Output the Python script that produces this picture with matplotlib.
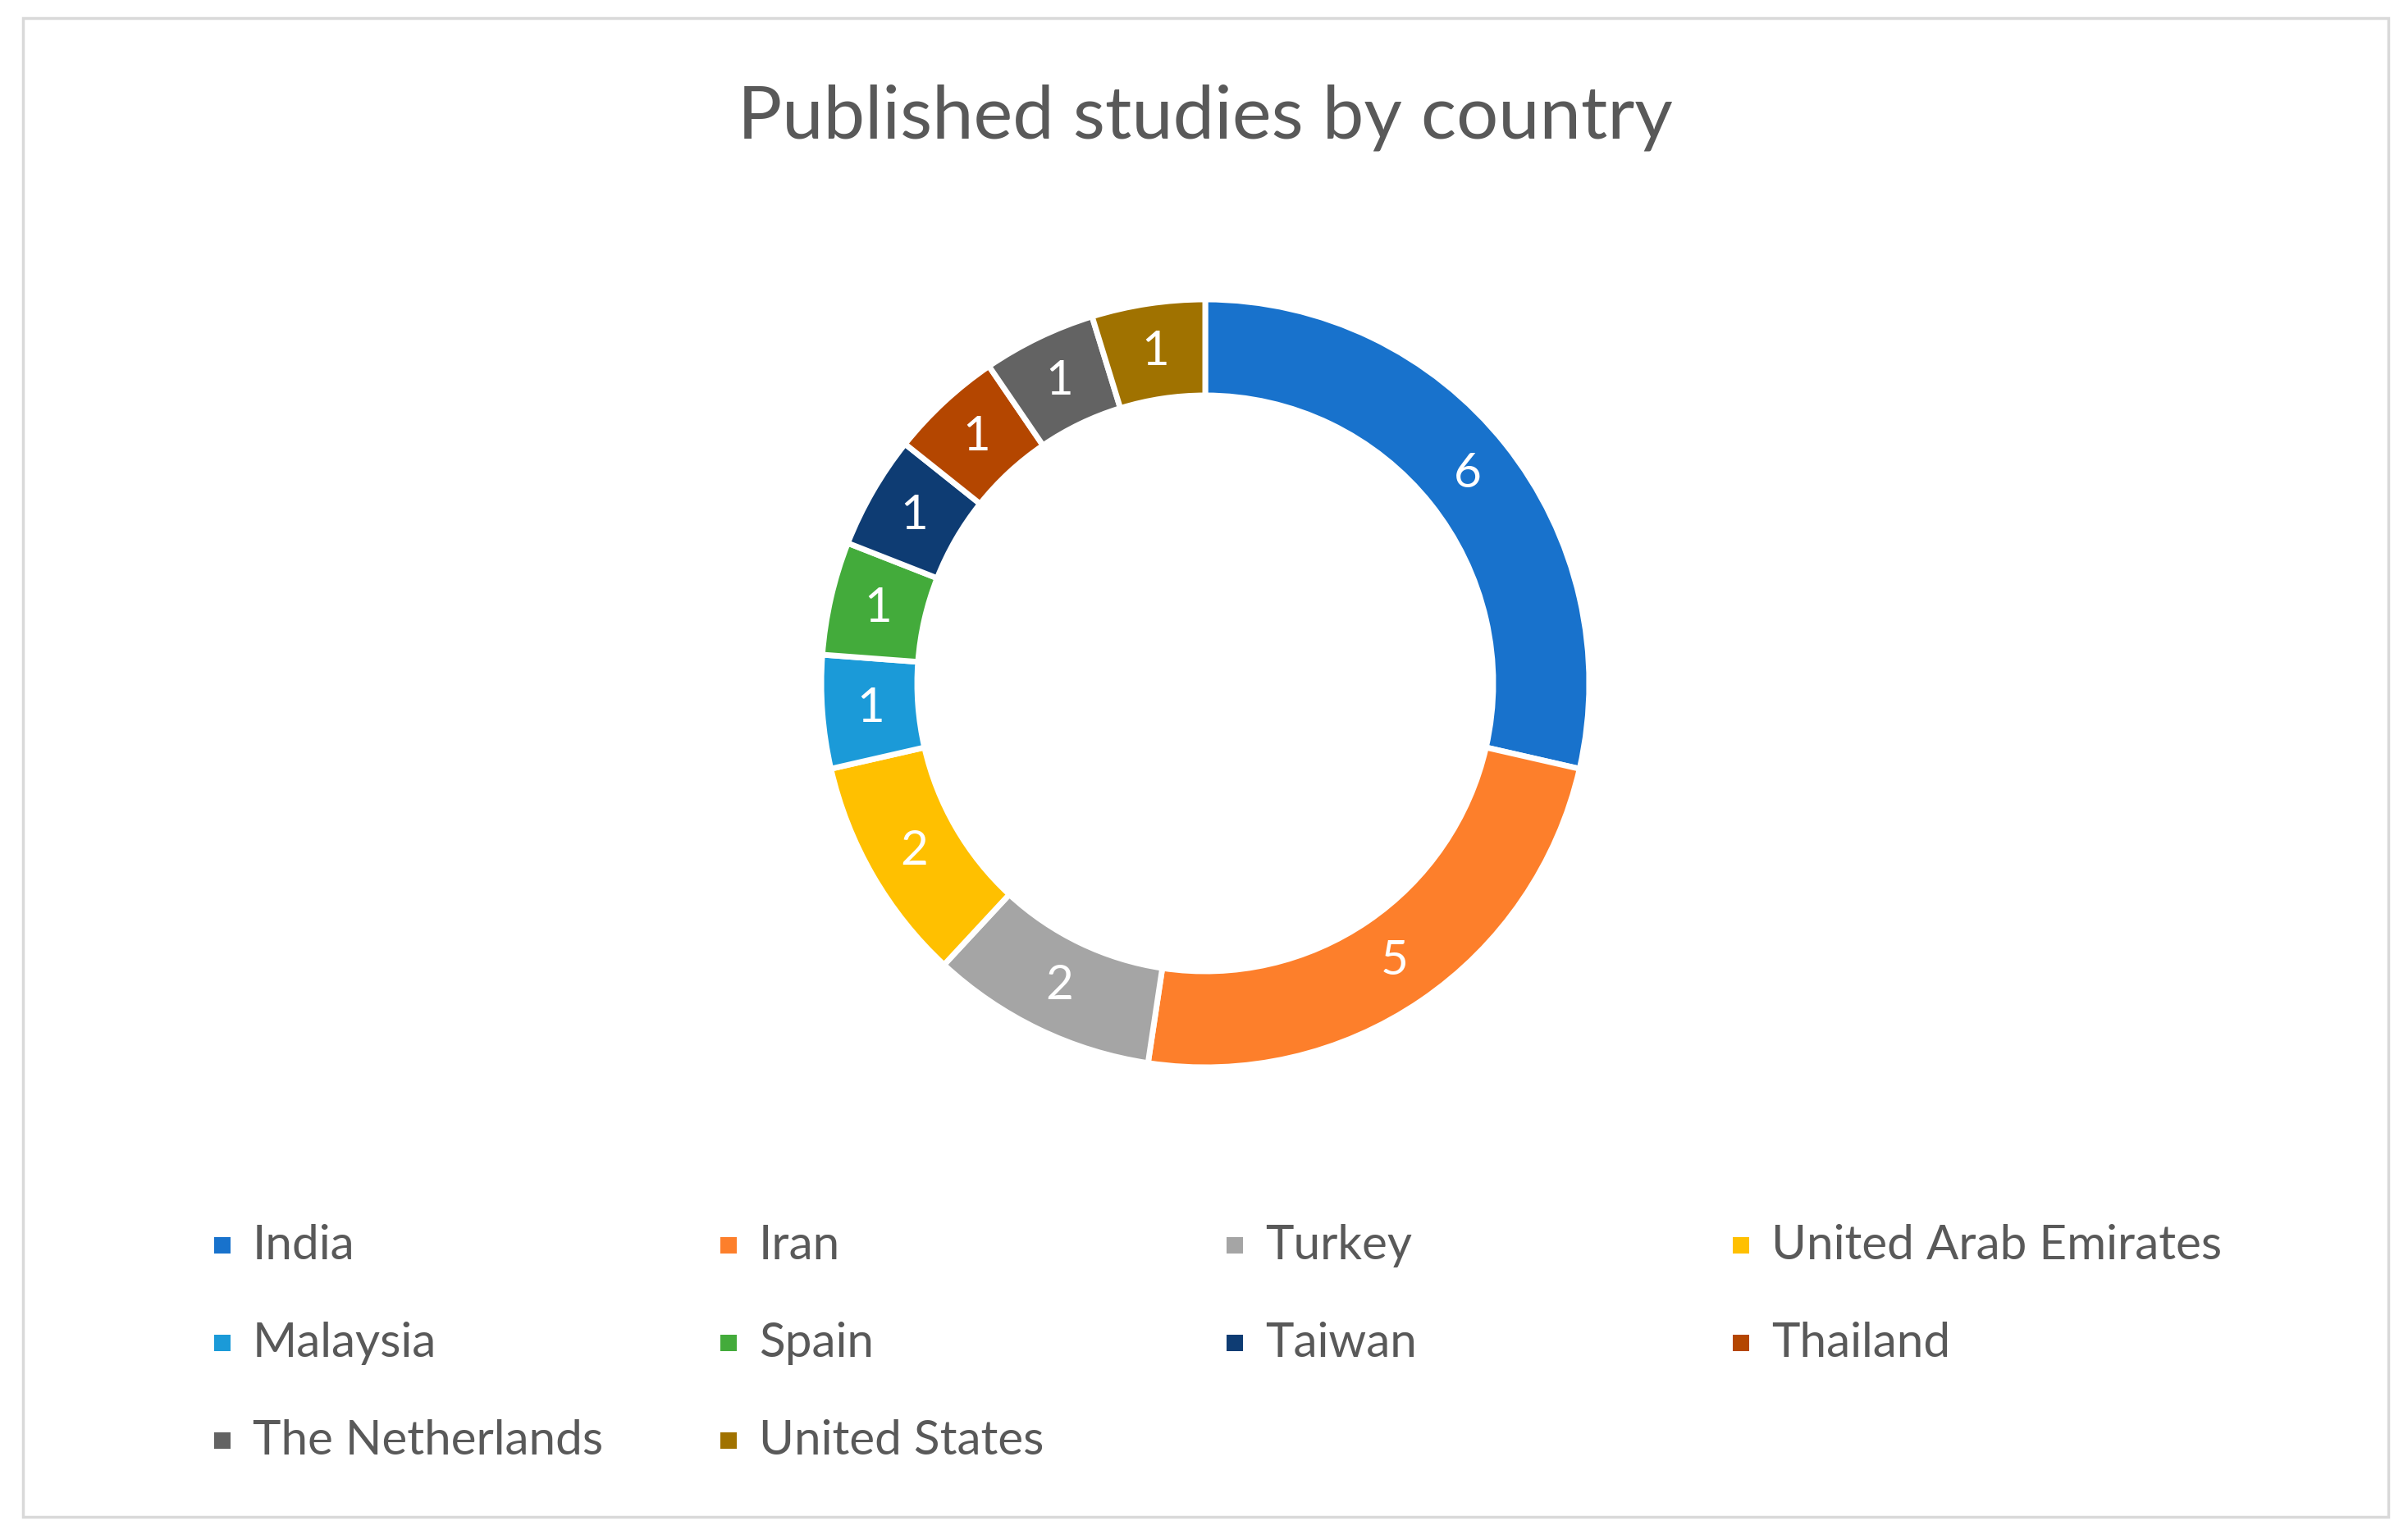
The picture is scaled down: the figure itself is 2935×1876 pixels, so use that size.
import matplotlib.pyplot as plt
from matplotlib.patches import Rectangle

plt.rcParams['font.family'] = ['Lato', 'DejaVu Sans']

countries = ['India', 'Iran', 'Turkey', 'United Arab Emirates', 'Malaysia',
             'Spain', 'Taiwan', 'Thailand', 'The Netherlands', 'United States']
studies = [6, 5, 2, 2, 1, 1, 1, 1, 1, 1]
colors = ['#1872CC', '#FD7F2B', '#A5A5A5', '#FFC000', '#1B9AD8',
          '#43AB3B', '#0E3C73', '#B44600', '#636363', '#A07200']

W, H = 2935, 1876
fig = plt.figure(figsize=(W / 100, H / 100), dpi=100)
text_color = '#595959'

# chart border
fig.patches.append(Rectangle((28 / W, 1 - 1849 / H), (2911 - 28) / W, (1849 - 22) / H,
                             transform=fig.transFigure, fill=False,
                             edgecolor='#D9D9D9', linewidth=2.5))

# doughnut
cx, cy, r = 1469, 833, 468
ax = fig.add_axes([(cx - r) / W, (H - cy - r) / H, 2 * r / W, 2 * r / H])
total = sum(studies)
wedges, _, autotexts = ax.pie(
    studies, colors=colors, startangle=90, counterclock=False,
    wedgeprops=dict(width=0.25, edgecolor='white', linewidth=5),
    autopct=lambda p: f'{round(p * total / 100)}', pctdistance=0.875,
    textprops=dict(color='white', fontsize=42))
ax.set_xlim(-1, 1)
ax.set_ylim(-1, 1)
for w in wedges:
    w.set_clip_on(False)

fig.text(cx / W, 1 - 143 / H, 'Published studies by country', ha='center', va='center',
         fontsize=65, color=text_color)

# legend, row by row in four columns
ncol = 4
for i, (name, c) in enumerate(zip(countries, colors)):
    row, col = divmod(i, ncol)
    x = 271 + col * 617
    y = 1518 + row * 119
    fig.patches.append(Rectangle(((x - 10) / W, 1 - (y + 10) / H), 20 / W, 20 / H,
                                 transform=fig.transFigure, facecolor=c, edgecolor='none'))
    fig.text((x + 37) / W, 1 - y / H, name, ha='left', va='center',
             fontsize=42, color=text_color)

fig.savefig('out.png', dpi=100, facecolor='white')
